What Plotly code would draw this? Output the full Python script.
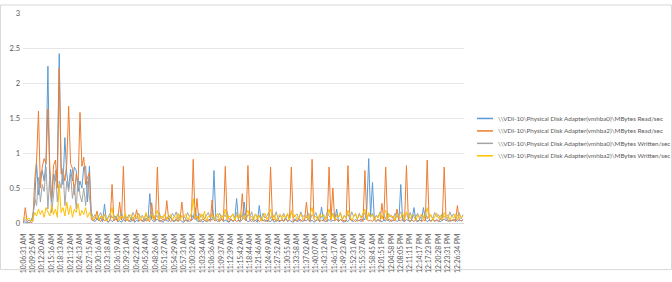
import plotly.graph_objects as go

series_names = [
    "\\\\VDI-10\\Physical Disk Adapter(vmhba0)\\MBytes Read/sec",
    "\\\\VDI-10\\Physical Disk Adapter(vmhba2)\\MBytes Read/sec",
    "\\\\VDI-10\\Physical Disk Adapter(vmhba0)\\MBytes Written/sec",
    "\\\\VDI-10\\Physical Disk Adapter(vmhba2)\\MBytes Written/sec",
]
colors = ["#5B9BD5", "#ED7D31", "#A5A5A5", "#FFC000"]

tick_labels = [
    "10:06:31 AM", "10:09:25 AM", "10:12:20 AM", "10:15:16 AM", "10:18:13 AM", "10:21:12 AM",
    "10:24:13 AM", "10:27:15 AM", "10:30:16 AM", "10:33:18 AM", "10:36:19 AM", "10:39:21 AM",
    "10:42:22 AM", "10:45:24 AM", "10:48:26 AM", "10:51:27 AM", "10:54:29 AM", "10:57:31 AM",
    "11:00:32 AM", "11:03:34 AM", "11:06:36 AM", "11:09:37 AM", "11:12:39 AM", "11:15:42 AM",
    "11:18:44 AM", "11:21:46 AM", "11:24:49 AM", "11:27:52 AM", "11:30:55 AM", "11:33:58 AM",
    "11:37:02 AM", "11:40:07 AM", "11:43:12 AM", "11:46:17 AM", "11:49:23 AM", "11:52:31 AM",
    "11:55:37 AM", "11:58:45 AM", "12:01:51 PM", "12:04:58 PM", "12:08:05 PM", "12:11:11 PM",
    "12:14:17 PM", "12:17:23 PM", "12:20:28 PM", "12:23:31 PM", "12:26:34 PM",
]
samples_per_label = 5

read_vmhba0 = [
    0.02, 0.01, 0.00, 0.00, 0.03, 0.10, 0.30, 0.85, 0.40, 0.70,
    0.75, 0.60, 0.88, 2.24, 0.50, 0.30, 0.70, 0.60, 0.80, 2.42,
    0.80, 0.55, 1.22, 0.70, 0.50, 0.77, 0.60, 0.80, 0.75, 0.45,
    0.60, 0.50, 0.80, 0.81, 0.30, 0.81, 0.10, 0.04, 0.02, 0.06,
    0.03, 0.08, 0.02, 0.27, 0.03, 0.01, 0.05, 0.02, 0.04, 0.10,
    0.02, 0.03, 0.01, 0.05, 0.02, 0.06, 0.03, 0.02, 0.08, 0.01,
    0.04, 0.02, 0.05, 0.03, 0.02, 0.07, 0.03, 0.42, 0.05, 0.02,
    0.03, 0.06, 0.02, 0.04, 0.01, 0.05, 0.03, 0.02, 0.09, 0.03,
    0.02, 0.04, 0.03, 0.06, 0.02, 0.01, 0.05, 0.03, 0.02, 0.04,
    0.06, 0.22, 0.03, 0.02, 0.05, 0.01, 0.04, 0.02, 0.03, 0.06,
    0.04, 0.75, 0.05, 0.02, 0.03, 0.06, 0.02, 0.04, 0.03, 0.01,
    0.05, 0.02, 0.04, 0.35, 0.03, 0.02, 0.05, 0.30, 0.04, 0.02,
    0.03, 0.06, 0.02, 0.04, 0.01, 0.25, 0.03, 0.05, 0.02, 0.04,
    0.03, 0.02, 0.06, 0.01, 0.04, 0.03, 0.02, 0.05, 0.03, 0.08,
    0.02, 0.04, 0.03, 0.01, 0.06, 0.02, 0.03, 0.05, 0.02, 0.04,
    0.03, 0.06, 0.02, 0.04, 0.01, 0.03, 0.05, 0.02, 0.23, 0.04,
    0.02, 0.03, 0.05, 0.02, 0.04, 0.03, 0.20, 0.02, 0.05, 0.03,
    0.01, 0.04, 0.02, 0.06, 0.03, 0.02, 0.05, 0.03, 0.04, 0.02,
    0.06, 0.05, 0.20, 0.92, 0.10, 0.58, 0.04, 0.02, 0.05, 0.03,
    0.02, 0.04, 0.03, 0.06, 0.02, 0.04, 0.03, 0.05, 0.02, 0.04,
    0.55, 0.03, 0.02, 0.05, 0.04, 0.02, 0.06, 0.22, 0.03, 0.02,
    0.04, 0.03, 0.22, 0.05, 0.02, 0.04, 0.03, 0.06, 0.02, 0.05,
    0.03, 0.02, 0.04, 0.06, 0.03, 0.05, 0.02, 0.04, 0.03, 0.06,
    0.02, 0.05, 0.03, 0.04,
]

read_vmhba2 = [
    0.00, 0.22, 0.02, 0.00, 0.00, 0.02, 0.60, 0.90, 1.60, 0.50,
    0.80, 0.92, 0.85, 1.63, 0.80, 0.35, 0.82, 0.90, 0.50, 2.21,
    0.70, 0.75, 0.60, 0.85, 1.67, 0.85, 0.78, 0.40, 0.70, 0.55,
    1.58, 0.81, 0.94, 0.55, 0.65, 0.72, 0.05, 0.03, 0.06, 0.17,
    0.04, 0.02, 0.07, 0.03, 0.05, 0.02, 0.04, 0.55, 0.03, 0.06,
    0.02, 0.30, 0.04, 0.81, 0.03, 0.05, 0.02, 0.06, 0.03, 0.04,
    0.19, 0.03, 0.05, 0.02, 0.06, 0.03, 0.04, 0.02, 0.29, 0.05,
    0.03, 0.80, 0.04, 0.02, 0.06, 0.03, 0.32, 0.05, 0.02, 0.04,
    0.03, 0.06, 0.02, 0.05, 0.30, 0.03, 0.04, 0.02, 0.06, 0.03,
    0.91, 0.05, 0.35, 0.03, 0.02, 0.06, 0.04, 0.03, 0.05, 0.02,
    0.33, 0.04, 0.03, 0.06, 0.02, 0.05, 0.03, 0.81, 0.04, 0.02,
    0.06, 0.03, 0.05, 0.02, 0.04, 0.03, 0.42, 0.06, 0.03, 0.82,
    0.04, 0.02, 0.05, 0.03, 0.06, 0.02, 0.04, 0.03, 0.05, 0.02,
    0.03, 0.80, 0.04, 0.06, 0.02, 0.05, 0.03, 0.04, 0.02, 0.06,
    0.03, 0.05, 0.80, 0.02, 0.04, 0.03, 0.06, 0.02, 0.05, 0.03,
    0.30, 0.04, 0.02, 0.91, 0.05, 0.03, 0.06, 0.02, 0.04, 0.03,
    0.05, 0.02, 0.80, 0.04, 0.50, 0.03, 0.06, 0.02, 0.05, 0.03,
    0.04, 0.02, 0.82, 0.06, 0.03, 0.05, 0.02, 0.04, 0.03, 0.06,
    0.02, 0.75, 0.05, 0.03, 0.04, 0.02, 0.06, 0.03, 0.05, 0.02,
    0.28, 0.04, 0.80, 0.03, 0.06, 0.02, 0.05, 0.03, 0.20, 0.04,
    0.03, 0.06, 0.02, 0.82, 0.05, 0.03, 0.04, 0.02, 0.06, 0.03,
    0.05, 0.02, 0.04, 0.03, 0.90, 0.06, 0.02, 0.05, 0.03, 0.04,
    0.02, 0.06, 0.03, 0.80, 0.05, 0.02, 0.04, 0.03, 0.06, 0.02,
    0.25, 0.04, 0.03, 0.05,
]

written_vmhba0 = [
    0.03, 0.05, 0.02, 0.04, 0.02, 0.06, 0.35, 0.25, 0.65, 0.30,
    0.55, 0.45, 0.80, 0.20, 0.70, 0.15, 0.40, 0.75, 0.30, 0.60,
    0.50, 0.78, 0.25, 0.60, 0.45, 0.70, 0.35, 0.55, 0.20, 0.65,
    0.40, 0.30, 0.50, 0.25, 0.60, 0.35, 0.15, 0.08, 0.12, 0.05,
    0.10, 0.15, 0.06, 0.12, 0.04, 0.09, 0.14, 0.07, 0.11, 0.05,
    0.13, 0.08, 0.16, 0.04, 0.10, 0.07, 0.12, 0.05, 0.15, 0.09,
    0.06, 0.14, 0.08, 0.11, 0.05, 0.13, 0.07, 0.10, 0.16, 0.04,
    0.12, 0.08, 0.15, 0.06, 0.10, 0.13, 0.05, 0.11, 0.07, 0.14,
    0.09, 0.16, 0.05, 0.12, 0.08, 0.10, 0.06, 0.15, 0.09, 0.13,
    0.07, 0.11, 0.05, 0.14, 0.08, 0.12, 0.06, 0.10, 0.15, 0.07,
    0.13, 0.05, 0.11, 0.08, 0.14, 0.06, 0.12, 0.09, 0.16, 0.05,
    0.10, 0.13, 0.07, 0.15, 0.06, 0.11, 0.08, 0.14, 0.05, 0.12,
    0.09, 0.16, 0.06, 0.13, 0.08, 0.11, 0.05, 0.14, 0.07, 0.10,
    0.15, 0.06, 0.12, 0.08, 0.16, 0.05, 0.11, 0.09, 0.14, 0.07,
    0.12, 0.05, 0.15, 0.08, 0.10, 0.13, 0.06, 0.16, 0.09, 0.11,
    0.07, 0.14, 0.05, 0.12, 0.09, 0.15, 0.06, 0.11, 0.08, 0.13,
    0.05, 0.16, 0.10, 0.07, 0.14, 0.06, 0.12, 0.09, 0.15, 0.05,
    0.11, 0.08, 0.13, 0.06, 0.16, 0.09, 0.12, 0.05, 0.14, 0.07,
    0.10, 0.15, 0.06, 0.12, 0.08, 0.14, 0.05, 0.11, 0.09, 0.16,
    0.07, 0.13, 0.05, 0.15, 0.09, 0.11, 0.06, 0.14, 0.08, 0.12,
    0.16, 0.05, 0.10, 0.13, 0.07, 0.15, 0.06, 0.12, 0.09, 0.14,
    0.05, 0.11, 0.08, 0.16, 0.06, 0.13, 0.10, 0.07, 0.15, 0.09,
    0.12, 0.05, 0.14, 0.08, 0.11, 0.06, 0.16, 0.09, 0.13, 0.07,
    0.10, 0.15, 0.06, 0.12,
]

written_vmhba2 = [
    0.06, 0.08, 0.05, 0.07, 0.03, 0.04, 0.15, 0.10, 0.20, 0.12,
    0.18, 0.08, 0.22, 0.15, 0.10, 0.25, 0.12, 0.20, 0.08, 0.55,
    0.15, 0.22, 0.10, 0.30, 0.12, 0.25, 0.08, 0.20, 0.15, 0.28,
    0.10, 0.18, 0.12, 0.22, 0.08, 0.15, 0.10, 0.05, 0.09, 0.12,
    0.04, 0.10, 0.06, 0.13, 0.03, 0.08, 0.11, 0.22, 0.05, 0.09,
    0.12, 0.04, 0.10, 0.07, 0.14, 0.03, 0.09, 0.12, 0.05, 0.11,
    0.08, 0.13, 0.04, 0.10, 0.06, 0.15, 0.03, 0.09, 0.12, 0.05,
    0.11, 0.18, 0.04, 0.10, 0.07, 0.13, 0.05, 0.09, 0.12, 0.04,
    0.10, 0.06, 0.14, 0.03, 0.11, 0.08, 0.13, 0.05, 0.09, 0.12,
    0.35, 0.07, 0.10, 0.04, 0.13, 0.06, 0.17, 0.03, 0.10, 0.08,
    0.12, 0.05, 0.09, 0.14, 0.04, 0.11, 0.07, 0.20, 0.05, 0.10,
    0.08, 0.13, 0.04, 0.11, 0.06, 0.15, 0.09, 0.05, 0.12, 0.18,
    0.07, 0.10, 0.04, 0.13, 0.06, 0.11, 0.03, 0.09, 0.14, 0.05,
    0.10, 0.20, 0.06, 0.12, 0.04, 0.09, 0.13, 0.05, 0.11, 0.07,
    0.14, 0.04, 0.18, 0.08, 0.12, 0.05, 0.10, 0.13, 0.06, 0.09,
    0.11, 0.05, 0.14, 0.22, 0.07, 0.10, 0.04, 0.13, 0.08, 0.12,
    0.05, 0.09, 0.20, 0.06, 0.13, 0.04, 0.11, 0.08, 0.15, 0.05,
    0.10, 0.07, 0.18, 0.12, 0.04, 0.09, 0.14, 0.06, 0.11, 0.08,
    0.13, 0.20, 0.05, 0.15, 0.09, 0.12, 0.04, 0.10, 0.07, 0.14,
    0.06, 0.11, 0.18, 0.05, 0.13, 0.08, 0.10, 0.04, 0.12, 0.09,
    0.07, 0.14, 0.05, 0.16, 0.10, 0.06, 0.12, 0.09, 0.04, 0.11,
    0.08, 0.13, 0.05, 0.10, 0.22, 0.07, 0.12, 0.04, 0.09, 0.14,
    0.06, 0.11, 0.05, 0.15, 0.08, 0.12, 0.04, 0.10, 0.07, 0.13,
    0.05, 0.12, 0.08, 0.10,
]

all_series = [read_vmhba0, read_vmhba2, written_vmhba0, written_vmhba2]

W, H = 672, 282
ML, MR, MT, MB = 23, 208, 9, 50
pw = W - ML - MR
ph = H - MT - MB

fig = go.Figure()
for name, vals, col in zip(series_names, all_series, colors):
    fig.add_trace(go.Scatter(
        x=list(range(len(vals))), y=vals, mode="lines", name=name,
        line=dict(color=col, width=1), showlegend=False,
    ))

n = len(read_vmhba0)
tickvals = [i * samples_per_label for i in range(len(tick_labels))]

shapes = []
annotations = []
# manual legend (short line samples like the original)
legend_y0 = 121
for k, (name, col) in enumerate(zip(series_names, colors)):
    ypix = legend_y0 + k * 13.2
    yp = 1 - (ypix - MT) / ph
    x0p = (477 - ML) / pw
    x1p = (493 - ML) / pw
    shapes.append(dict(type="line", xref="paper", yref="paper", x0=x0p, x1=x1p, y0=yp, y1=yp,
                       line=dict(color=col, width=1.5)))
    annotations.append(dict(xref="paper", yref="paper", x=(496 - ML) / pw, y=yp, text=name,
                            showarrow=False, xanchor="left", yanchor="middle",
                            font=dict(size=6.3, color="#595959", family="Lato")))

# outer chart border
shapes.append(dict(type="rect", xref="paper", yref="paper",
                   x0=(0.5 - ML) / pw, x1=(W - 0.5 - ML) / pw,
                   y0=1 - (H - 0.5 - MT) / ph, y1=1 + (MT - 0.5) / ph,
                   line=dict(color="#D9D9D9", width=1), layer="below"))

fig.update_layout(
    width=W, height=H,
    margin=dict(l=ML, r=MR, t=MT, b=MB),
    paper_bgcolor="white", plot_bgcolor="white",
    font=dict(family="Lato", color="#595959"),
    shapes=shapes, annotations=annotations,
    xaxis=dict(
        range=[-0.2, n - 0.5], tickmode="array", tickvals=tickvals, ticktext=tick_labels,
        tickangle=-90, tickfont=dict(size=6.8, color="#595959"), showgrid=False,
        showline=True, linecolor="#D9D9D9", linewidth=1, ticks="", zeroline=False,
        ticklabelstandoff=7,
    ),
    yaxis=dict(
        range=[0, 3], dtick=0.5, showgrid=True, gridcolor="#E6E6E6", gridwidth=1,
        tickfont=dict(size=7.5, color="#595959"), zeroline=False, ticks="",
        ticksuffix=" ",
    ),
)

fig.write_html("out.html")
